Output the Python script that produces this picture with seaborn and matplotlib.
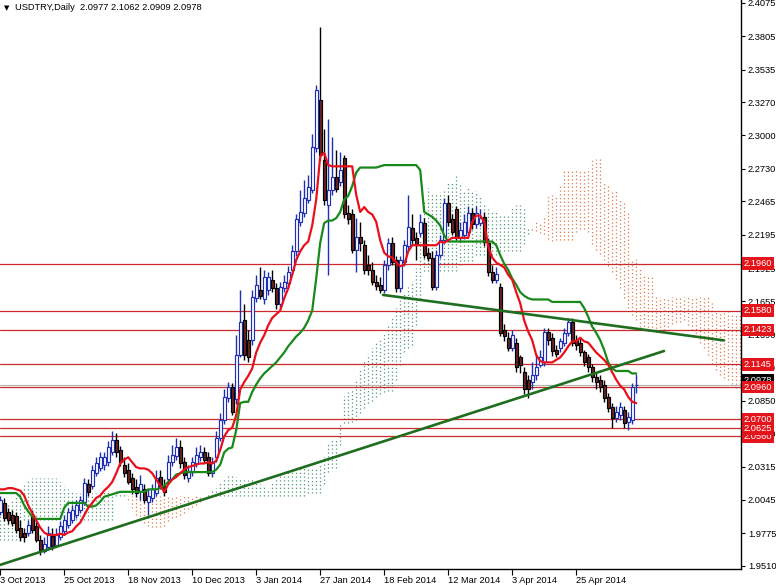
import numpy as np
import pandas as pd
import matplotlib
matplotlib.use("Agg")
import matplotlib.pyplot as plt
import matplotlib.transforms as mtransforms
import seaborn as sns

# ---------------- data ----------------
title_text = "USDTRY,Daily  2.0977 2.1062 2.0909 2.0978"
start_date = "2013-10-03"
end_date = "2014-05-16"
holidays = ["2013-12-25", "2014-01-01"]
tick_labels = ["3 Oct 2013", "25 Oct 2013", "18 Nov 2013", "10 Dec 2013", "3 Jan 2014",
               "27 Jan 2014", "18 Feb 2014", "12 Mar 2014", "3 Apr 2014", "25 Apr 2014"]

opens = [1.995, 2.002, 1.995, 1.992, 1.991, 1.982, 1.978, 1.978, 1.992, 1.983,
         1.972, 1.963, 1.966, 1.975, 1.968, 1.974, 1.979, 1.984, 1.988, 1.992,
         1.996, 2.003, 2.017, 2.016, 2.026, 2.030, 2.033, 2.035, 2.043, 2.053,
         2.045, 2.033, 2.029, 2.022, 2.015, 2.012, 2.013, 2.003, 2.006, 2.010,
         2.023, 2.016, 2.021, 2.035, 2.040, 2.047, 2.035, 2.022, 2.027, 2.034,
         2.039, 2.043, 2.039, 2.026, 2.039, 2.055, 2.069, 2.087, 2.096, 2.086,
         2.122, 2.150, 2.134, 2.134, 2.168, 2.175, 2.167, 2.175, 2.183, 2.176,
         2.163, 2.176, 2.180, 2.191, 2.206, 2.230, 2.237, 2.248, 2.256, 2.290,
         2.329, 2.280, 2.244, 2.256, 2.266, 2.262, 2.282, 2.237, 2.236, 2.207,
         2.218, 2.211, 2.195, 2.191, 2.181, 2.179, 2.175, 2.195, 2.213, 2.199,
         2.176, 2.197, 2.210, 2.225, 2.217, 2.221, 2.229, 2.205, 2.201, 2.177,
         2.203, 2.215, 2.245, 2.232, 2.240, 2.217, 2.219, 2.222, 2.237, 2.228,
         2.229, 2.234, 2.213, 2.189, 2.183, 2.177, 2.142, 2.136, 2.128, 2.132,
         2.120, 2.108, 2.102, 2.100, 2.106, 2.114, 2.116, 2.141, 2.136, 2.126,
         2.128, 2.132, 2.140, 2.149, 2.134, 2.132, 2.124, 2.120, 2.112, 2.104,
         2.102, 2.098, 2.088, 2.080, 2.071, 2.073, 2.077, 2.068, 2.069, 2.0977]
highs = [2.008, 2.006, 1.998, 1.996, 1.995, 1.988, 1.982, 1.988, 1.996, 1.987,
         1.976, 1.974, 1.983, 1.982, 1.982, 1.987, 1.992, 1.998, 2.000, 2.004,
         2.008, 2.022, 2.021, 2.033, 2.039, 2.043, 2.043, 2.052, 2.060, 2.059,
         2.048, 2.039, 2.034, 2.026, 2.021, 2.025, 2.017, 2.013, 2.017, 2.029,
         2.029, 2.021, 2.041, 2.049, 2.055, 2.053, 2.039, 2.033, 2.039, 2.047,
         2.049, 2.047, 2.043, 2.039, 2.060, 2.075, 2.094, 2.100, 2.099, 2.138,
         2.175, 2.163, 2.142, 2.175, 2.187, 2.193, 2.191, 2.189, 2.191, 2.180,
         2.181, 2.187, 2.194, 2.211, 2.236, 2.256, 2.264, 2.268, 2.301, 2.341,
         2.388, 2.305, 2.313, 2.299, 2.288, 2.287, 2.284, 2.244, 2.240, 2.233,
         2.230, 2.215, 2.203, 2.197, 2.187, 2.185, 2.199, 2.217, 2.218, 2.202,
         2.202, 2.215, 2.252, 2.236, 2.222, 2.236, 2.233, 2.209, 2.206, 2.207,
         2.219, 2.249, 2.252, 2.236, 2.243, 2.230, 2.236, 2.243, 2.241, 2.243,
         2.240, 2.238, 2.217, 2.195, 2.193, 2.180, 2.147, 2.141, 2.142, 2.136,
         2.122, 2.112, 2.106, 2.116, 2.122, 2.126, 2.144, 2.144, 2.140, 2.130,
         2.136, 2.144, 2.152, 2.152, 2.138, 2.136, 2.126, 2.123, 2.115, 2.108,
         2.106, 2.102, 2.091, 2.083, 2.081, 2.084, 2.081, 2.076, 2.099, 2.1062]
lows = [1.992, 1.987, 1.985, 1.983, 1.978, 1.971, 1.970, 1.975, 1.978, 1.970,
        1.960, 1.961, 1.964, 1.964, 1.966, 1.972, 1.976, 1.982, 1.986, 1.990,
        1.994, 2.000, 2.008, 2.013, 2.024, 2.028, 2.029, 2.032, 2.041, 2.039,
        2.032, 2.023, 2.017, 2.009, 2.007, 2.004, 2.002, 1.992, 2.003, 2.008,
        2.013, 2.008, 2.017, 2.032, 2.037, 2.030, 2.021, 2.019, 2.024, 2.031,
        2.036, 2.034, 2.024, 2.023, 2.035, 2.052, 2.066, 2.084, 2.073, 2.082,
        2.120, 2.118, 2.116, 2.130, 2.165, 2.167, 2.163, 2.171, 2.173, 2.159,
        2.160, 2.173, 2.176, 2.188, 2.202, 2.227, 2.234, 2.245, 2.253, 2.287,
        2.280, 2.244, 2.187, 2.252, 2.254, 2.259, 2.233, 2.228, 2.205, 2.189,
        2.206, 2.188, 2.187, 2.179, 2.175, 2.172, 2.172, 2.191, 2.195, 2.173,
        2.173, 2.194, 2.207, 2.212, 2.199, 2.218, 2.201, 2.198, 2.175, 2.175,
        2.201, 2.213, 2.227, 2.219, 2.215, 2.214, 2.216, 2.219, 2.224, 2.225,
        2.227, 2.210, 2.186, 2.180, 2.180, 2.137, 2.133, 2.125, 2.125, 2.108,
        2.107, 2.090, 2.087, 2.094, 2.102, 2.112, 2.113, 2.130, 2.121, 2.120,
        2.124, 2.129, 2.137, 2.129, 2.126, 2.121, 2.113, 2.108, 2.100, 2.094,
        2.092, 2.084, 2.076, 2.063, 2.068, 2.069, 2.063, 2.061, 2.066, 2.0909]
closes = [2.004, 1.990, 1.988, 1.986, 1.980, 1.974, 1.974, 1.984, 1.980, 1.972,
          1.964, 1.969, 1.978, 1.967, 1.976, 1.983, 1.988, 1.995, 1.996, 2.000,
          2.004, 2.018, 2.011, 2.029, 2.034, 2.039, 2.039, 2.047, 2.053, 2.043,
          2.035, 2.026, 2.019, 2.013, 2.010, 2.017, 2.004, 2.008, 2.013, 2.022,
          2.015, 2.011, 2.035, 2.041, 2.047, 2.034, 2.025, 2.028, 2.035, 2.041,
          2.043, 2.037, 2.026, 2.035, 2.055, 2.069, 2.088, 2.096, 2.076, 2.122,
          2.149, 2.122, 2.120, 2.169, 2.179, 2.170, 2.185, 2.185, 2.176, 2.163,
          2.177, 2.181, 2.189, 2.206, 2.232, 2.238, 2.249, 2.258, 2.291, 2.337,
          2.284, 2.248, 2.256, 2.266, 2.257, 2.272, 2.236, 2.232, 2.207, 2.218,
          2.213, 2.191, 2.191, 2.181, 2.178, 2.175, 2.195, 2.213, 2.197, 2.176,
          2.199, 2.211, 2.226, 2.215, 2.211, 2.230, 2.203, 2.201, 2.177, 2.203,
          2.215, 2.245, 2.230, 2.222, 2.217, 2.223, 2.230, 2.237, 2.228, 2.237,
          2.233, 2.214, 2.189, 2.183, 2.188, 2.140, 2.137, 2.128, 2.138, 2.112,
          2.114, 2.094, 2.094, 2.106, 2.112, 2.120, 2.141, 2.134, 2.125, 2.123,
          2.133, 2.140, 2.149, 2.132, 2.130, 2.124, 2.116, 2.112, 2.104, 2.100,
          2.096, 2.087, 2.079, 2.071, 2.076, 2.080, 2.067, 2.072, 2.096, 2.0978]

tenkan = [2.013, 2.013, 2.014, 2.014, 2.013, 2.012, 2.008, 2.000, 1.994, 1.988,
          1.982, 1.978, 1.976, 1.976, 1.976, 1.977, 1.976, 1.978, 1.979, 1.983,
          1.986, 1.992, 1.998, 2.002, 2.006, 2.008, 2.012, 2.015, 2.019, 2.026,
          2.034, 2.037, 2.039, 2.035, 2.031, 2.030, 2.030, 2.029, 2.026, 2.021,
          2.016, 2.011, 2.017, 2.021, 2.023, 2.026, 2.029, 2.031, 2.032, 2.033,
          2.034, 2.034, 2.035, 2.034, 2.036, 2.045, 2.056, 2.061, 2.063, 2.073,
          2.094, 2.100, 2.105, 2.111, 2.124, 2.132, 2.138, 2.146, 2.152, 2.155,
          2.158, 2.168, 2.176, 2.187, 2.199, 2.206, 2.211, 2.214, 2.227, 2.248,
          2.283, 2.286, 2.276, 2.275, 2.275, 2.275, 2.275, 2.275, 2.275, 2.252,
          2.238, 2.242, 2.238, 2.236, 2.230, 2.215, 2.205, 2.202, 2.201, 2.197,
          2.194, 2.195, 2.206, 2.211, 2.211, 2.211, 2.211, 2.211, 2.211, 2.211,
          2.214, 2.213, 2.215, 2.217, 2.217, 2.217, 2.217, 2.217, 2.230, 2.235,
          2.235, 2.230, 2.210, 2.201, 2.197, 2.195, 2.193, 2.187, 2.183, 2.173,
          2.164, 2.150, 2.141, 2.134, 2.122, 2.117, 2.116, 2.116, 2.116, 2.118,
          2.120, 2.124, 2.129, 2.133, 2.133, 2.136, 2.133, 2.132, 2.128, 2.124,
          2.121, 2.118, 2.114, 2.108, 2.102, 2.097, 2.094, 2.088, 2.084, 2.083]

kijun = ([2.010] * 5 + [2.007, 2.000, 1.995, 1.991] + [1.989] * 7 + [1.998] + [2.002] * 5 +
         [1.999, 1.999, 2.000, 2.003, 2.007, 2.008, 2.009, 2.010] + [2.011] * 7 + [2.013] * 3 +
         [2.014, 2.016, 2.019, 2.021, 2.025, 2.026] + [2.027] * 8 +
         [2.029, 2.033, 2.043, 2.046, 2.047, 2.061, 2.083, 2.084, 2.084, 2.092,
          2.098, 2.103, 2.107, 2.110, 2.113, 2.116, 2.120, 2.124, 2.129, 2.133,
          2.137, 2.140, 2.144, 2.150, 2.158, 2.184, 2.213, 2.229, 2.231, 2.231,
          2.233, 2.238, 2.248, 2.251, 2.259, 2.270] +
         [2.274] * 5 + [2.275] + [2.276] * 9 +
         [2.272, 2.238, 2.236, 2.234, 2.231, 2.227, 2.219] + [2.214] * 12 +
         [2.211, 2.203, 2.196, 2.191, 2.184, 2.179, 2.173, 2.170, 2.168] + [2.167] * 5 +
         [2.165] * 8 + [2.160, 2.153, 2.145, 2.140, 2.134, 2.126, 2.116, 2.111] +
         [2.109] * 4 + [2.107] * 2)

span_a = [2.000, 2.000, 2.002, 2.004, 2.008, 2.013, 2.017, 2.021, 2.022, 2.022,
          2.022, 2.022, 2.022, 2.022, 2.022, 2.019, 2.016, 2.013, 2.011, 2.010,
          2.010, 2.010, 2.010, 2.010, 2.010, 2.010,
          2.0115, 2.0115, 2.012, 2.012, 2.0115, 2.0095, 2.004, 1.9975, 1.9925, 1.9885,
          1.9855, 1.9835, 1.9825, 1.9825, 1.9825, 1.983, 1.987, 1.990, 1.9905, 1.9925,
          1.994, 1.997, 1.9985, 2.0005, 2.003, 2.0055, 2.0095, 2.0115, 2.014, 2.018,
          2.0225, 2.024, 2.025, 2.023, 2.021, 2.0205, 2.0205, 2.021, 2.0195, 2.017,
          2.015, 2.0135, 2.018, 2.021, 2.024, 2.026, 2.028, 2.029, 2.0295, 2.030,
          2.0305, 2.0305, 2.031, 2.0305, 2.0325, 2.039, 2.0495, 2.0535, 2.055, 2.067,
          2.0885, 2.092, 2.0945, 2.1015, 2.111, 2.1175, 2.1225, 2.128, 2.1325, 2.1355,
          2.139, 2.146, 2.1525, 2.160, 2.168, 2.173, 2.1775, 2.182, 2.1925, 2.216,
          2.248, 2.2575, 2.2535, 2.253, 2.254, 2.2565, 2.2615, 2.263, 2.267, 2.261,
          2.256, 2.258, 2.256, 2.255, 2.252, 2.245, 2.2405, 2.239, 2.2385, 2.2365,
          2.235, 2.2355, 2.241, 2.2435, 2.2435, 2.2415, 2.2245, 2.2235, 2.2225, 2.221,
          2.2205, 2.216, 2.2145, 2.2155, 2.2155, 2.2155, 2.2155, 2.2155, 2.222, 2.2245,
          2.2245, 2.222, 2.212, 2.2075, 2.204, 2.199, 2.1945, 2.189, 2.1835, 2.176,
          2.1685, 2.160, 2.1545, 2.1505, 2.1445, 2.142, 2.1415, 2.1415, 2.1405, 2.1415,
          2.1425, 2.1445, 2.147, 2.149, 2.149, 2.1505, 2.1465, 2.1425, 2.1365, 2.132,
          2.1275, 2.122, 2.115, 2.1095, 2.1055, 2.103, 2.1015, 2.0985, 2.0955, 2.095]

span_b = ([1.972] * 6 + [1.988] * 23 + [2.008] * 48 + [2.010] * 4 +
          [2.017, 2.027, 2.030, 2.030, 2.049, 2.067, 2.067, 2.068, 2.069,
           2.075, 2.079, 2.083, 2.085, 2.088, 2.090, 2.092, 2.093, 2.093, 2.102,
           2.114, 2.124, 2.128, 2.130, 2.146, 2.167] +
          [2.190] * 9 + [2.195] + [2.198] * 3 + [2.203] + [2.203] * 5 + [2.206] * 6 +
          [2.212, 2.220, 2.227, 2.230, 2.230, 2.235] + [2.252] * 3 + [2.259] +
          [2.273] * 6 + [2.274] + [2.281] * 3 +
          [2.262, 2.261, 2.256, 2.256, 2.248, 2.247, 2.239] + [2.200] * 2 +
          [2.193, 2.188, 2.187, 2.186] + [2.169] * 14 + [2.164] + [2.157] * 4 + [2.156] * 3)

levels = [2.1960, 2.1580, 2.1423, 2.1145, 2.0960, 2.0700, 2.0625, 2.0560]
bid_price = 2.0978
y_ticks = [2.4075, 2.3805, 2.3535, 2.3270, 2.3000, 2.2730, 2.2465, 2.2195, 2.1925,
           2.1655, 2.1390, 2.1120, 2.0850, 2.0580, 2.0315, 2.0045, 1.9775, 1.9510]
trend_up_bars = [-0.05, 165.95]
trend_up_prices = [1.9517, 2.1252]
trend_dn_bars = [95.7, 180.95]
trend_dn_prices = [2.1707, 2.1338]

# ---------------- style ----------------
sns.set_theme(style="white")
plt.rcParams["font.family"] = ["Liberation Sans", "DejaVu Sans"]
FS = 6.7
bull_col = "#1f2fb4"
bear_fill = "#6b2320"
tenkan_col = "#e8101a"
kijun_col = "#17891a"
trend_col = "#1f6e1f"
level_col = "#cc2a2a"
cloud_up = "#4c9a74"
cloud_dn = "#e07a45"
label_red = "#e4141b"

dates = pd.bdate_range(start_date, end_date)
dates = dates[~dates.isin(pd.to_datetime(holidays))]
n = len(closes)
bars = np.arange(n)
tick_pos = [dates.get_loc(pd.to_datetime(t, format="%d %b %Y")) for t in tick_labels]

fig = plt.figure(figsize=(7.76, 5.85), dpi=100)
ax = fig.add_axes([0, 16 / 585, 741 / 776, 569 / 585])
ax.set_facecolor("white")

# Ichimoku cloud (dotted hatching per bar)
sa = np.array(span_a)
sb = np.array(span_b)
cx = np.arange(len(sa))
up = sa >= sb
ax.vlines(cx[up], sb[up], sa[up], colors=cloud_up, linestyles=(0, (1, 2)), linewidth=0.9, zorder=1)
ax.vlines(cx[~up], sa[~up], sb[~up], colors=cloud_dn, linestyles=(0, (1, 2)), linewidth=0.9, zorder=1)

# horizontal levels
for lv in levels:
    ax.axhline(lv, color=level_col, linewidth=0.9, zorder=2)
ax.axhline(bid_price, color="#b4b4b4", linewidth=0.8, zorder=2)

# candles
o = np.array(opens); h = np.array(highs); l = np.array(lows); c = np.array(closes)
bull = c >= o
ax.vlines(bars[bull], l[bull], h[bull], color=bull_col, linewidth=1.0, zorder=3)
ax.vlines(bars[~bull], l[~bull], h[~bull], color="black", linewidth=1.0, zorder=3)
ax.bar(bars[bull], (c - o)[bull], bottom=o[bull], width=0.72, color="white",
       edgecolor=bull_col, linewidth=0.85, zorder=3.5)
ax.bar(bars[~bull], (o - c)[~bull], bottom=c[~bull], width=0.72, color=bear_fill,
       edgecolor="black", linewidth=0.85, zorder=3.5)

# Tenkan / Kijun
df = pd.DataFrame({"bar": bars, "tenkan": tenkan, "kijun": kijun})
sns.lineplot(data=df, x="bar", y="kijun", ax=ax, color=kijun_col, linewidth=1.6, zorder=4)
sns.lineplot(data=df, x="bar", y="tenkan", ax=ax, color=tenkan_col, linewidth=1.6, zorder=4.2)

# trendlines
ax.plot(trend_up_bars, trend_up_prices, color=trend_col, linewidth=1.9, zorder=5)
ax.plot(trend_dn_bars, trend_dn_prices, color=trend_col, linewidth=1.9, zorder=5)

# axes
ax.set_xlim(-0.05, 185.2)
ax.set_ylim(1.9484, 2.4099)
ax.set_xlabel("")
ax.set_ylabel("")
ax.yaxis.tick_right()
ax.set_yticks(y_ticks)
ax.set_yticklabels([f"{v:.4f}" for v in y_ticks])
ax.set_xticks(tick_pos)
ax.set_xticklabels(tick_labels)
for t in ax.get_xticklabels():
    t.set_horizontalalignment("left")
ax.tick_params(axis="y", which="both", right=True, left=False, direction="out", length=3,
               width=0.8, pad=2, labelsize=FS, colors="black")
ax.tick_params(axis="x", which="both", bottom=True, direction="out", length=4,
               width=0.8, pad=1, labelsize=FS, colors="black")
for s in ["left", "top"]:
    ax.spines[s].set_visible(False)
for s in ["right", "bottom"]:
    ax.spines[s].set_visible(True)
    ax.spines[s].set_color("black")
    ax.spines[s].set_linewidth(1.0)
ax.grid(False)

# price labels on the axis
trans = mtransforms.blended_transform_factory(ax.transAxes, ax.transData)
ax.text(1.0 + 3 / 741, bid_price + 0.0035, f"{bid_price:.4f}", transform=trans, ha="left", va="center",
        color="white", fontsize=FS, clip_on=False, zorder=20,
        bbox=dict(boxstyle="square,pad=0.2", fc="black", ec="none"))
for lv in sorted(levels):
    ax.text(1.0 + 3 / 741, lv, f"{lv:.4f}", transform=trans, ha="left", va="center",
            color="white", fontsize=FS, clip_on=False, zorder=21,
            bbox=dict(boxstyle="square,pad=0.2", fc=label_red, ec="none"))

# title
fig.text(4 / 776, 1 - 8 / 585, "\u25BC", fontsize=5, va="center", ha="left", color="black",
         family=["DejaVu Sans"])
fig.text(15 / 776, 1 - 8 / 585, title_text, fontsize=FS, va="center", ha="left", color="black")

fig.savefig("out.png", dpi=100)
